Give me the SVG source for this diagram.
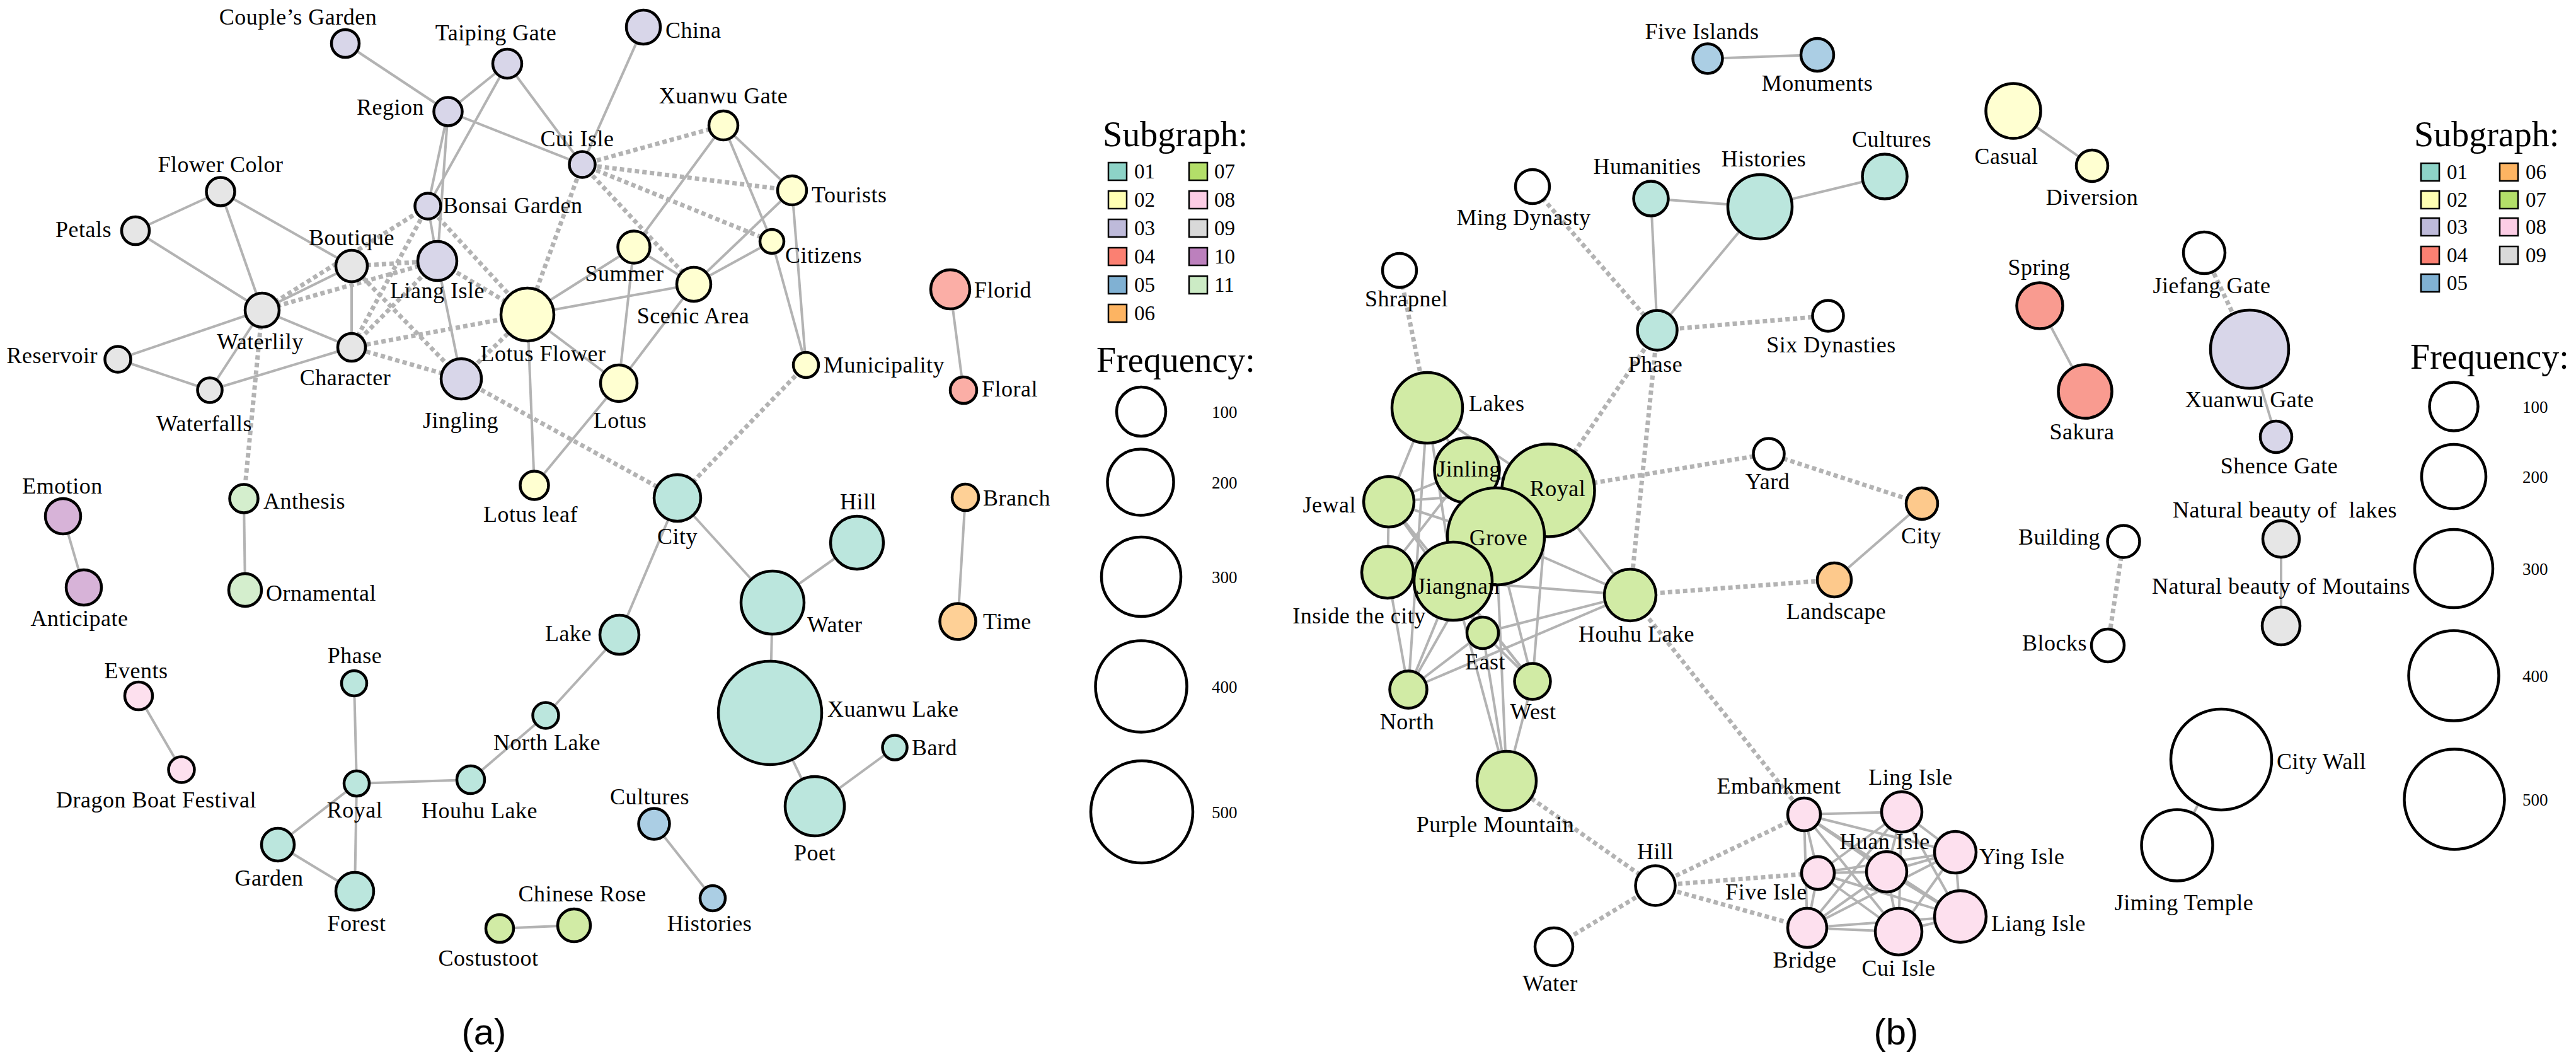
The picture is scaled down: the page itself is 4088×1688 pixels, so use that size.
<svg xmlns="http://www.w3.org/2000/svg" width="4088" height="1688" viewBox="0 0 4088 1688">
<style>
text{font-family:"Liberation Serif","Times New Roman",serif;font-size:36px;letter-spacing:0.5px;fill:#000}
.m{text-anchor:middle}.s{text-anchor:start}.e{text-anchor:end}
circle{stroke:#000;stroke-width:4.5}
.c01{fill:#bbe6dd}.c02{fill:#ffffd1}.c03{fill:#d8d6e9}.c04a{fill:#fbaea6}.c04b{fill:#f99b90}
.c05{fill:#abcee4}.c06a{fill:#fed096}.c06b{fill:#fdc98c}.c07{fill:#d1eba5}.c08{fill:#fde0ee}
.c09{fill:#e6e6e6}.c10{fill:#d7b3d8}.c11{fill:#d4eecd}.cw{fill:#fff}
#connectors line{stroke:#b3b3b3;stroke-linecap:butt}
.sl{stroke-width:4}
.dl{stroke-width:7;stroke-dasharray:7 5}
.sw{stroke:#000;stroke-width:2.5}
.lt{font-size:56px;letter-spacing:0}
.ln{font-size:33px;letter-spacing:0}
.fq{font-size:27px;letter-spacing:0}
.cap{font-family:"Liberation Sans",Arial,sans-serif;font-size:58px;letter-spacing:0}
</style>
<rect width="4088" height="1688" fill="#fff"/>
<g id="connectors">
<g class="sl">
<line x1="548" y1="69" x2="711" y2="177"/>
<line x1="805" y1="101" x2="711" y2="177"/>
<line x1="805" y1="101" x2="924" y2="261"/>
<line x1="805" y1="101" x2="679" y2="327"/>
<line x1="711" y1="177" x2="924" y2="261"/>
<line x1="711" y1="177" x2="679" y2="327"/>
<line x1="711" y1="177" x2="694" y2="414"/>
<line x1="679" y1="327" x2="694" y2="414"/>
<line x1="694" y1="414" x2="732" y2="601"/>
<line x1="1021" y1="43" x2="924" y2="261"/>
<line x1="350" y1="304" x2="215" y2="366"/>
<line x1="350" y1="304" x2="416" y2="492"/>
<line x1="350" y1="304" x2="558" y2="422"/>
<line x1="215" y1="366" x2="416" y2="492"/>
<line x1="558" y1="422" x2="416" y2="492"/>
<line x1="558" y1="422" x2="558" y2="551"/>
<line x1="416" y1="492" x2="187" y2="570"/>
<line x1="416" y1="492" x2="558" y2="551"/>
<line x1="416" y1="492" x2="333" y2="619"/>
<line x1="187" y1="570" x2="333" y2="619"/>
<line x1="333" y1="619" x2="558" y2="551"/>
<line x1="387" y1="791" x2="389" y2="936"/>
<line x1="100" y1="819" x2="133" y2="932"/>
<line x1="220" y1="1104" x2="288" y2="1221"/>
<line x1="837" y1="499" x2="1006" y2="392"/>
<line x1="837" y1="499" x2="1101" y2="451"/>
<line x1="837" y1="499" x2="982" y2="608"/>
<line x1="837" y1="499" x2="848" y2="770"/>
<line x1="1006" y1="392" x2="982" y2="608"/>
<line x1="1006" y1="392" x2="1148" y2="199"/>
<line x1="1006" y1="392" x2="1101" y2="451"/>
<line x1="982" y1="608" x2="1101" y2="451"/>
<line x1="982" y1="608" x2="848" y2="770"/>
<line x1="1148" y1="199" x2="1257" y2="302"/>
<line x1="1148" y1="199" x2="1225" y2="383"/>
<line x1="1257" y1="302" x2="1101" y2="451"/>
<line x1="1257" y1="302" x2="1279" y2="579"/>
<line x1="1225" y1="383" x2="1101" y2="451"/>
<line x1="1225" y1="383" x2="1279" y2="579"/>
<line x1="1508" y1="459" x2="1529" y2="619"/>
<line x1="1532" y1="789" x2="1520" y2="986"/>
<line x1="1075" y1="790" x2="983" y2="1007"/>
<line x1="1075" y1="790" x2="1226" y2="956"/>
<line x1="1226" y1="956" x2="1360" y2="861"/>
<line x1="1226" y1="956" x2="1222" y2="1131"/>
<line x1="1222" y1="1131" x2="1293" y2="1279"/>
<line x1="1293" y1="1279" x2="1420" y2="1186"/>
<line x1="983" y1="1007" x2="866" y2="1135"/>
<line x1="866" y1="1135" x2="747" y2="1237"/>
<line x1="747" y1="1237" x2="566" y2="1243"/>
<line x1="566" y1="1243" x2="562" y2="1084"/>
<line x1="566" y1="1243" x2="441" y2="1340"/>
<line x1="566" y1="1243" x2="563" y2="1414"/>
<line x1="441" y1="1340" x2="563" y2="1414"/>
<line x1="793" y1="1473" x2="911" y2="1468"/>
<line x1="1038" y1="1307" x2="1131" y2="1425"/>
<!-- panel b solid -->
<line x1="2710" y1="93" x2="2884" y2="87"/>
<line x1="2620" y1="315" x2="2793" y2="328"/>
<line x1="2620" y1="315" x2="2630" y2="524"/>
<line x1="2793" y1="328" x2="2630" y2="524"/>
<line x1="2793" y1="328" x2="2991" y2="280"/>
<line x1="3050" y1="799" x2="2911" y2="920"/>
<line x1="3195" y1="176" x2="3320" y2="263"/>
<line x1="3237" y1="485" x2="3309" y2="621"/>
<line x1="3570" y1="554" x2="3612" y2="693"/>
<line x1="3620" y1="855" x2="3620" y2="993"/>
<line x1="3525" y1="1205" x2="3455" y2="1341"/>
<!-- green cluster -->
<line x1="2265" y1="647" x2="2204" y2="796"/>
<line x1="2265" y1="647" x2="2235" y2="1094"/>
<line x1="2265" y1="647" x2="2306" y2="922"/>
<line x1="2265" y1="647" x2="2457" y2="778"/>
<line x1="2265" y1="647" x2="2328" y2="746"/>
<line x1="2204" y1="796" x2="2328" y2="746"/>
<line x1="2204" y1="796" x2="2457" y2="778"/>
<line x1="2204" y1="796" x2="2374" y2="851"/>
<line x1="2204" y1="796" x2="2202" y2="908"/>
<line x1="2204" y1="796" x2="2353" y2="1004"/>
<line x1="2204" y1="796" x2="2432" y2="1081"/>
<line x1="2328" y1="746" x2="2202" y2="908"/>
<line x1="2328" y1="746" x2="2306" y2="922"/>
<line x1="2328" y1="746" x2="2374" y2="851"/>
<line x1="2328" y1="746" x2="2457" y2="778"/>
<line x1="2374" y1="851" x2="2457" y2="778"/>
<line x1="2374" y1="851" x2="2306" y2="922"/>
<line x1="2374" y1="851" x2="2587" y2="944"/>
<line x1="2457" y1="778" x2="2587" y2="944"/>
<line x1="2306" y1="922" x2="2587" y2="944"/>
<line x1="2457" y1="778" x2="2432" y2="1081"/>
<line x1="2374" y1="851" x2="2432" y2="1081"/>
<line x1="2374" y1="851" x2="2391" y2="1239"/>
<line x1="2306" y1="922" x2="2391" y2="1239"/>
<line x1="2353" y1="1004" x2="2391" y2="1239"/>
<line x1="2432" y1="1081" x2="2391" y2="1239"/>
<line x1="2353" y1="1004" x2="2587" y2="944"/>
<line x1="2235" y1="1094" x2="2587" y2="944"/>
<line x1="2235" y1="1094" x2="2306" y2="922"/>
<line x1="2235" y1="1094" x2="2353" y2="1004"/>
<line x1="2235" y1="1094" x2="2202" y2="908"/>
<line x1="2235" y1="1094" x2="2374" y2="851"/>
<line x1="2202" y1="908" x2="2306" y2="922"/>
<line x1="2353" y1="1004" x2="2432" y2="1081"/>
<line x1="2306" y1="922" x2="2432" y2="1081"/>
<line x1="2202" y1="908" x2="2374" y2="851"/>
<line x1="2306" y1="922" x2="2353" y2="1004"/>
<!-- pink cluster -->
<line x1="2863" y1="1292" x2="3018" y2="1288"/>
<line x1="2863" y1="1292" x2="3103" y2="1352"/>
<line x1="2863" y1="1292" x2="2885" y2="1385"/>
<line x1="2863" y1="1292" x2="2994" y2="1383"/>
<line x1="2863" y1="1292" x2="2868" y2="1472"/>
<line x1="2863" y1="1292" x2="3013" y2="1478"/>
<line x1="2863" y1="1292" x2="3111" y2="1454"/>
<line x1="3018" y1="1288" x2="3103" y2="1352"/>
<line x1="3018" y1="1288" x2="2885" y2="1385"/>
<line x1="3018" y1="1288" x2="2994" y2="1383"/>
<line x1="3018" y1="1288" x2="2868" y2="1472"/>
<line x1="3018" y1="1288" x2="3013" y2="1478"/>
<line x1="3018" y1="1288" x2="3111" y2="1454"/>
<line x1="3103" y1="1352" x2="2885" y2="1385"/>
<line x1="3103" y1="1352" x2="2994" y2="1383"/>
<line x1="3103" y1="1352" x2="2868" y2="1472"/>
<line x1="3103" y1="1352" x2="3013" y2="1478"/>
<line x1="3103" y1="1352" x2="3111" y2="1454"/>
<line x1="2885" y1="1385" x2="2994" y2="1383"/>
<line x1="2885" y1="1385" x2="2868" y2="1472"/>
<line x1="2885" y1="1385" x2="3013" y2="1478"/>
<line x1="2885" y1="1385" x2="3111" y2="1454"/>
<line x1="2994" y1="1383" x2="2868" y2="1472"/>
<line x1="2994" y1="1383" x2="3013" y2="1478"/>
<line x1="2994" y1="1383" x2="3111" y2="1454"/>
<line x1="2868" y1="1472" x2="3013" y2="1478"/>
<line x1="2868" y1="1472" x2="3111" y2="1454"/>
<line x1="3013" y1="1478" x2="3111" y2="1454"/>
</g>
<g class="dl">
<line x1="416" y1="492" x2="679" y2="327"/>
<line x1="416" y1="492" x2="694" y2="414"/>
<line x1="416" y1="492" x2="387" y2="791"/>
<line x1="558" y1="422" x2="694" y2="414"/>
<line x1="558" y1="422" x2="732" y2="601"/>
<line x1="679" y1="327" x2="558" y2="551"/>
<line x1="694" y1="414" x2="558" y2="551"/>
<line x1="679" y1="327" x2="837" y2="499"/>
<line x1="694" y1="414" x2="837" y2="499"/>
<line x1="558" y1="551" x2="837" y2="499"/>
<line x1="558" y1="551" x2="732" y2="601"/>
<line x1="732" y1="601" x2="837" y2="499"/>
<line x1="732" y1="601" x2="1075" y2="790"/>
<line x1="924" y1="261" x2="837" y2="499"/>
<line x1="924" y1="261" x2="1148" y2="199"/>
<line x1="924" y1="261" x2="1257" y2="302"/>
<line x1="924" y1="261" x2="1225" y2="383"/>
<line x1="924" y1="261" x2="1101" y2="451"/>
<line x1="1279" y1="579" x2="1075" y2="790"/>
<!-- panel b dotted -->
<line x1="2221" y1="429" x2="2265" y2="647"/>
<line x1="2432" y1="296" x2="2630" y2="524"/>
<line x1="2630" y1="524" x2="2901" y2="501"/>
<line x1="2630" y1="524" x2="2457" y2="778"/>
<line x1="2630" y1="524" x2="2587" y2="944"/>
<line x1="2457" y1="778" x2="2807" y2="720"/>
<line x1="2807" y1="720" x2="3050" y2="799"/>
<line x1="2587" y1="944" x2="2911" y2="920"/>
<line x1="2587" y1="944" x2="2863" y2="1292"/>
<line x1="2391" y1="1239" x2="2627" y2="1405"/>
<line x1="2627" y1="1405" x2="2466" y2="1502"/>
<line x1="2627" y1="1405" x2="2863" y2="1292"/>
<line x1="2627" y1="1405" x2="2885" y2="1385"/>
<line x1="2627" y1="1405" x2="2868" y2="1472"/>
<line x1="3498" y1="401" x2="3570" y2="554"/>
<line x1="3370" y1="859" x2="3345" y2="1024"/>
</g>
</g>
<g id="panel-a">
<g id="a-couples-garden"><circle class="c03" cx="548" cy="69" r="22"/><text class="m" x="473" y="39">Couple’s Garden</text></g>
<g id="a-taiping-gate"><circle class="c03" cx="805" cy="101" r="23"/><text class="m" x="787" y="64">Taiping Gate</text></g>
<g id="a-china"><circle class="c03" cx="1021" cy="43" r="27"/><text class="s" x="1056" y="60">China</text></g>
<g id="a-region"><circle class="c03" cx="711" cy="177" r="22.5"/><text class="e" x="673" y="182">Region</text></g>
<g id="a-cui-isle"><circle class="c03" cx="924" cy="261" r="20.5"/><text class="m" x="916" y="232">Cui Isle</text></g>
<g id="a-bonsai-garden"><circle class="c03" cx="679" cy="327" r="20.5"/><text class="s" x="703" y="338">Bonsai Garden</text></g>
<g id="a-liang-isle"><circle class="c03" cx="694" cy="414" r="31"/><text class="m" x="694" y="473">Liang Isle</text></g>
<g id="a-jingling"><circle class="c03" cx="732" cy="601" r="32"/><text class="m" x="731" y="679">Jingling</text></g>
<g id="a-flower-color"><circle class="c09" cx="350" cy="304" r="22.5"/><text class="m" x="350" y="273">Flower Color</text></g>
<g id="a-petals"><circle class="c09" cx="215" cy="366" r="22"/><text class="e" x="177" y="376">Petals</text></g>
<g id="a-boutique"><circle class="c09" cx="558" cy="422" r="25"/><text class="m" x="558" y="389">Boutique</text></g>
<g id="a-waterlily"><circle class="c09" cx="416" cy="492" r="27"/><text class="m" x="413" y="554">Waterlily</text></g>
<g id="a-character"><circle class="c09" cx="558" cy="551" r="22"/><text class="m" x="548" y="611">Character</text></g>
<g id="a-reservoir"><circle class="c09" cx="187" cy="570" r="20.5"/><text class="e" x="155" y="576">Reservoir</text></g>
<g id="a-waterfalls"><circle class="c09" cx="333" cy="619" r="19.5"/><text class="m" x="324" y="684">Waterfalls</text></g>
<g id="a-lotus-flower"><circle class="c02" cx="837" cy="499" r="42"/><text class="m" x="862" y="573">Lotus Flower</text></g>
<g id="a-summer"><circle class="c02" cx="1006" cy="392" r="25.5"/><text class="m" x="991" y="446">Summer</text></g>
<g id="a-lotus"><circle class="c02" cx="982" cy="608" r="29"/><text class="m" x="984" y="679">Lotus</text></g>
<g id="a-lotus-leaf"><circle class="c02" cx="848" cy="770" r="22.5"/><text class="m" x="842" y="828">Lotus leaf</text></g>
<g id="a-xuanwu-gate"><circle class="c02" cx="1148" cy="199" r="23"/><text class="m" x="1148" y="164">Xuanwu Gate</text></g>
<g id="a-tourists"><circle class="c02" cx="1257" cy="302" r="23"/><text class="s" x="1288" y="321">Tourists</text></g>
<g id="a-citizens"><circle class="c02" cx="1225" cy="383" r="19"/><text class="s" x="1246" y="417">Citizens</text></g>
<g id="a-scenic-area"><circle class="c02" cx="1101" cy="451" r="27"/><text class="m" x="1100" y="513">Scenic Area</text></g>
<g id="a-municipality"><circle class="c02" cx="1279" cy="579" r="20"/><text class="s" x="1307" y="591">Municipality</text></g>
<g id="a-florid"><circle class="c04a" cx="1508" cy="459" r="31"/><text class="s" x="1546" y="472">Florid</text></g>
<g id="a-floral"><circle class="c04a" cx="1529" cy="619" r="21"/><text class="s" x="1558" y="629">Floral</text></g>
<g id="a-branch"><circle class="c06a" cx="1532" cy="789" r="21"/><text class="s" x="1560" y="802">Branch</text></g>
<g id="a-time"><circle class="c06a" cx="1520" cy="986" r="28.5"/><text class="s" x="1560" y="998">Time</text></g>
<g id="a-city"><circle class="c01" cx="1075" cy="790" r="37"/><text class="m" x="1075" y="863">City</text></g>
<g id="a-hill"><circle class="c01" cx="1360" cy="861" r="42"/><text class="m" x="1362" y="808">Hill</text></g>
<g id="a-water"><circle class="c01" cx="1226" cy="956" r="50"/><text class="s" x="1281" y="1003">Water</text></g>
<g id="a-xuanwu-lake"><circle class="c01" cx="1222" cy="1131" r="82"/><text class="s" x="1313" y="1137">Xuanwu Lake</text></g>
<g id="a-bard"><circle class="c01" cx="1420" cy="1186" r="19.5"/><text class="s" x="1447" y="1198">Bard</text></g>
<g id="a-poet"><circle class="c01" cx="1293" cy="1279" r="47"/><text class="m" x="1293" y="1365">Poet</text></g>
<g id="a-lake"><circle class="c01" cx="983" cy="1007" r="31"/><text class="e" x="939" y="1017">Lake</text></g>
<g id="a-north-lake"><circle class="c01" cx="866" cy="1135" r="20.5"/><text class="m" x="868" y="1190">North Lake</text></g>
<g id="a-houhu-lake"><circle class="c01" cx="747" cy="1237" r="22"/><text class="m" x="761" y="1298">Houhu Lake</text></g>
<g id="a-royal"><circle class="c01" cx="566" cy="1243" r="20"/><text class="m" x="563" y="1297">Royal</text></g>
<g id="a-phase"><circle class="c01" cx="562" cy="1084" r="20"/><text class="m" x="563" y="1052">Phase</text></g>
<g id="a-garden"><circle class="c01" cx="441" cy="1340" r="26"/><text class="m" x="427" y="1405">Garden</text></g>
<g id="a-forest"><circle class="c01" cx="563" cy="1414" r="30"/><text class="m" x="566" y="1477">Forest</text></g>
<g id="a-cultures"><circle class="c05" cx="1038" cy="1307" r="24.5"/><text class="m" x="1031" y="1276">Cultures</text></g>
<g id="a-histories"><circle class="c05" cx="1131" cy="1425" r="20"/><text class="m" x="1126" y="1477">Histories</text></g>
<g id="a-costustoot"><circle class="c07" cx="793" cy="1473" r="22"/><text class="m" x="775" y="1532">Costustoot</text></g>
<g id="a-chinese-rose"><circle class="c07" cx="911" cy="1468" r="26"/><text class="m" x="924" y="1430">Chinese Rose</text></g>
<g id="a-emotion"><circle class="c10" cx="100" cy="819" r="28"/><text class="m" x="99" y="783">Emotion</text></g>
<g id="a-anticipate"><circle class="c10" cx="133" cy="932" r="28"/><text class="m" x="126" y="993">Anticipate</text></g>
<g id="a-anthesis"><circle class="c11" cx="387" cy="791" r="22.5"/><text class="s" x="418" y="807">Anthesis</text></g>
<g id="a-ornamental"><circle class="c11" cx="389" cy="936" r="26"/><text class="s" x="422" y="953">Ornamental</text></g>
<g id="a-events"><circle class="c08" cx="220" cy="1104" r="22"/><text class="m" x="216" y="1076">Events</text></g>
<g id="a-dragon-boat-festival"><circle class="c08" cx="288" cy="1221" r="20.5"/><text class="m" x="248" y="1281">Dragon Boat Festival</text></g>
</g>
<g id="legend-a">
<text class="lt s" x="1750" y="232">Subgraph:</text>
<rect class="sw" x="1759" y="258" width="29" height="28" fill="#8dd3c7"/><text class="ln" x="1800" y="283">01</text>
<rect class="sw" x="1759" y="303" width="29" height="28" fill="#ffffb3"/><text class="ln" x="1800" y="328">02</text>
<rect class="sw" x="1759" y="348" width="29" height="28" fill="#bebada"/><text class="ln" x="1800" y="373">03</text>
<rect class="sw" x="1759" y="393" width="29" height="28" fill="#fb8072"/><text class="ln" x="1800" y="418">04</text>
<rect class="sw" x="1759" y="438" width="29" height="28" fill="#80b1d3"/><text class="ln" x="1800" y="463">05</text>
<rect class="sw" x="1759" y="483" width="29" height="28" fill="#fdb462"/><text class="ln" x="1800" y="508">06</text>
<rect class="sw" x="1887" y="258" width="29" height="28" fill="#b3de69"/><text class="ln" x="1927" y="283">07</text>
<rect class="sw" x="1887" y="303" width="29" height="28" fill="#fccde5"/><text class="ln" x="1927" y="328">08</text>
<rect class="sw" x="1887" y="348" width="29" height="28" fill="#d9d9d9"/><text class="ln" x="1927" y="373">09</text>
<rect class="sw" x="1887" y="393" width="29" height="28" fill="#bc80bd"/><text class="ln" x="1927" y="418">10</text>
<rect class="sw" x="1887" y="438" width="29" height="28" fill="#ccebc5"/><text class="ln" x="1927" y="463">11</text>
<text class="lt s" x="1740" y="590">Frequency:</text>
<circle class="cw" cx="1811" cy="653" r="39"/><text class="fq" x="1923" y="663">100</text>
<circle class="cw" cx="1810" cy="765" r="52.5"/><text class="fq" x="1923" y="775">200</text>
<circle class="cw" cx="1811" cy="915" r="63"/><text class="fq" x="1923" y="925">300</text>
<circle class="cw" cx="1811" cy="1089" r="72.5"/><text class="fq" x="1923" y="1099">400</text>
<circle class="cw" cx="1812" cy="1288" r="81"/><text class="fq" x="1923" y="1298">500</text>
</g>
<text class="cap m" x="768" y="1657">(a)</text>
<g id="panel-b">
<g id="b-five-islands"><circle class="c05" cx="2710" cy="93" r="23.5"/><text class="m" x="2701" y="62">Five Islands</text></g>
<g id="b-monuments"><circle class="c05" cx="2884" cy="87" r="26"/><text class="m" x="2884" y="144">Monuments</text></g>
<g id="b-cultures"><circle class="c01" cx="2991" cy="280" r="35.5"/><text class="m" x="3002" y="233">Cultures</text></g>
<g id="b-histories"><circle class="c01" cx="2793" cy="328" r="51"/><text class="m" x="2799" y="264">Histories</text></g>
<g id="b-humanities"><circle class="c01" cx="2620" cy="315" r="27.5"/><text class="m" x="2614" y="276">Humanities</text></g>
<g id="b-ming-dynasty"><circle class="cw" cx="2432" cy="296" r="27"/><text class="m" x="2418" y="357">Ming Dynasty</text></g>
<g id="b-shrapnel"><circle class="cw" cx="2221" cy="429" r="27"/><text class="m" x="2232" y="486">Shrapnel</text></g>
<g id="b-phase"><circle class="c01" cx="2630" cy="524" r="31.5"/><text class="m" x="2627" y="590">Phase</text></g>
<g id="b-six-dynasties"><circle class="cw" cx="2901" cy="501" r="24.5"/><text class="m" x="2906" y="559">Six Dynasties</text></g>
<g id="b-lakes"><circle class="c07" cx="2265" cy="647" r="56"/><text class="s" x="2331" y="652">Lakes</text></g>
<g id="b-royal"><circle class="c07" cx="2457" cy="778" r="73.5"/><text class="m" x="2472" y="787">Royal</text></g>
<g id="b-jinling"><circle class="c07" cx="2328" cy="746" r="51.5"/><text class="m" x="2331" y="756">Jinling</text></g>
<g id="b-jewal"><circle class="c07" cx="2204" cy="796" r="40"/><text class="e" x="2152" y="813">Jewal</text></g>
<g id="b-inside-the-city"><circle class="c07" cx="2202" cy="908" r="41"/><text class="m" x="2157" y="989">Inside the city</text></g>
<g id="b-grove"><circle class="c07" cx="2374" cy="851" r="77"/><text class="m" x="2378" y="865">Grove</text></g>
<g id="b-jiangnan"><circle class="c07" cx="2306" cy="922" r="62"/><text class="m" x="2314" y="942">Jiangnan</text></g>
<g id="b-houhu-lake"><circle class="c07" cx="2587" cy="944" r="41"/><text class="m" x="2597" y="1018">Houhu Lake</text></g>
<g id="b-east"><circle class="c07" cx="2353" cy="1004" r="25"/><text class="m" x="2357" y="1062">East</text></g>
<g id="b-west"><circle class="c07" cx="2432" cy="1081" r="28.5"/><text class="m" x="2433" y="1141">West</text></g>
<g id="b-north"><circle class="c07" cx="2235" cy="1094" r="29.5"/><text class="m" x="2233" y="1157">North</text></g>
<g id="b-purple-mountain"><circle class="c07" cx="2391" cy="1239" r="47"/><text class="m" x="2373" y="1320">Purple Mountain</text></g>
<g id="b-yard"><circle class="cw" cx="2807" cy="720" r="24.5"/><text class="m" x="2805" y="776">Yard</text></g>
<g id="b-city"><circle class="c06b" cx="3050" cy="799" r="25"/><text class="m" x="3049" y="862">City</text></g>
<g id="b-landscape"><circle class="c06b" cx="2911" cy="920" r="27"/><text class="m" x="2914" y="982">Landscape</text></g>
<g id="b-hill"><circle class="cw" cx="2627" cy="1405" r="31.5"/><text class="m" x="2627" y="1363">Hill</text></g>
<g id="b-water"><circle class="cw" cx="2466" cy="1502" r="30"/><text class="m" x="2460" y="1572">Water</text></g>
<g id="b-embankment"><circle class="c08" cx="2863" cy="1292" r="26"/><text class="m" x="2823" y="1259">Embankment</text></g>
<g id="b-ling-isle"><circle class="c08" cx="3018" cy="1288" r="32"/><text class="m" x="3032" y="1245">Ling Isle</text></g>
<g id="b-ying-isle"><circle class="c08" cx="3103" cy="1352" r="33"/><text class="s" x="3141" y="1371">Ying Isle</text></g>
<g id="b-five-isle"><circle class="c08" cx="2885" cy="1385" r="26"/><text class="m" x="2803" y="1427">Five Isle</text></g>
<g id="b-huan-isle"><circle class="c08" cx="2994" cy="1383" r="32"/><text class="m" x="2991" y="1347">Huan Isle</text></g>
<g id="b-bridge"><circle class="c08" cx="2868" cy="1472" r="31"/><text class="m" x="2864" y="1535">Bridge</text></g>
<g id="b-cui-isle"><circle class="c08" cx="3013" cy="1478" r="37"/><text class="m" x="3013" y="1548">Cui Isle</text></g>
<g id="b-liang-isle"><circle class="c08" cx="3111" cy="1454" r="41"/><text class="s" x="3160" y="1477">Liang Isle</text></g>
<g id="b-casual"><circle class="c02" cx="3195" cy="176" r="43.5"/><text class="m" x="3184" y="260">Casual</text></g>
<g id="b-diversion"><circle class="c02" cx="3320" cy="263" r="25"/><text class="m" x="3320" y="325">Diversion</text></g>
<g id="b-spring"><circle class="c04b" cx="3237" cy="485" r="36.5"/><text class="m" x="3236" y="436">Spring</text></g>
<g id="b-sakura"><circle class="c04b" cx="3309" cy="621" r="42.5"/><text class="m" x="3304" y="697">Sakura</text></g>
<g id="b-jiefang-gate"><circle class="cw" cx="3498" cy="401" r="33"/><text class="m" x="3510" y="465">Jiefang Gate</text></g>
<g id="b-xuanwu-gate"><circle class="c03" cx="3570" cy="554" r="62"/><text class="m" x="3570" y="646">Xuanwu Gate</text></g>
<g id="b-shence-gate"><circle class="c03" cx="3612" cy="693" r="25"/><text class="m" x="3617" y="751">Shence Gate</text></g>
<g id="b-building"><circle class="cw" cx="3370" cy="859" r="25.5"/><text class="e" x="3333" y="864">Building</text></g>
<g id="b-blocks"><circle class="cw" cx="3345" cy="1024" r="26"/><text class="e" x="3312" y="1032">Blocks</text></g>
<g id="b-natural-beauty-lakes"><circle class="c09" cx="3620" cy="855" r="29"/><text class="m" x="3626" y="821">Natural beauty of&#160; lakes</text></g>
<g id="b-natural-beauty-moutains"><circle class="c09" cx="3620" cy="993" r="30"/><text class="m" x="3620" y="942">Natural beauty of Moutains</text></g>
<g id="b-city-wall"><circle class="cw" cx="3525" cy="1205" r="80"/><text class="s" x="3613" y="1220">City Wall</text></g>
<g id="b-jiming-temple"><circle class="cw" cx="3455" cy="1341" r="56.5"/><text class="m" x="3466" y="1444">Jiming Temple</text></g>
</g>
<g id="legend-b">
<text class="lt s" x="3831" y="232">Subgraph:</text>
<rect class="sw" x="3842" y="259" width="29" height="28" fill="#8dd3c7"/><text class="ln" x="3883" y="284">01</text>
<rect class="sw" x="3842" y="303" width="29" height="28" fill="#ffffb3"/><text class="ln" x="3883" y="328">02</text>
<rect class="sw" x="3842" y="346" width="29" height="28" fill="#bebada"/><text class="ln" x="3883" y="371">03</text>
<rect class="sw" x="3842" y="391" width="29" height="28" fill="#fb8072"/><text class="ln" x="3883" y="416">04</text>
<rect class="sw" x="3842" y="435" width="29" height="28" fill="#80b1d3"/><text class="ln" x="3883" y="460">05</text>
<rect class="sw" x="3967" y="259" width="29" height="28" fill="#fdb462"/><text class="ln" x="4008" y="284">06</text>
<rect class="sw" x="3967" y="303" width="29" height="28" fill="#b3de69"/><text class="ln" x="4008" y="328">07</text>
<rect class="sw" x="3967" y="346" width="29" height="28" fill="#fccde5"/><text class="ln" x="4008" y="371">08</text>
<rect class="sw" x="3967" y="391" width="29" height="28" fill="#d9d9d9"/><text class="ln" x="4008" y="416">09</text>
<text class="lt s" x="3825" y="585">Frequency:</text>
<circle class="cw" cx="3894" cy="645" r="38.5"/><text class="fq" x="4003" y="655">100</text>
<circle class="cw" cx="3894" cy="756" r="51"/><text class="fq" x="4003" y="766">200</text>
<circle class="cw" cx="3894" cy="902" r="62"/><text class="fq" x="4003" y="912">300</text>
<circle class="cw" cx="3894" cy="1072" r="71.5"/><text class="fq" x="4003" y="1082">400</text>
<circle class="cw" cx="3895" cy="1268" r="79.5"/><text class="fq" x="4003" y="1278">500</text>
</g>
<text class="cap m" x="3009" y="1657">(b)</text>
</svg>
